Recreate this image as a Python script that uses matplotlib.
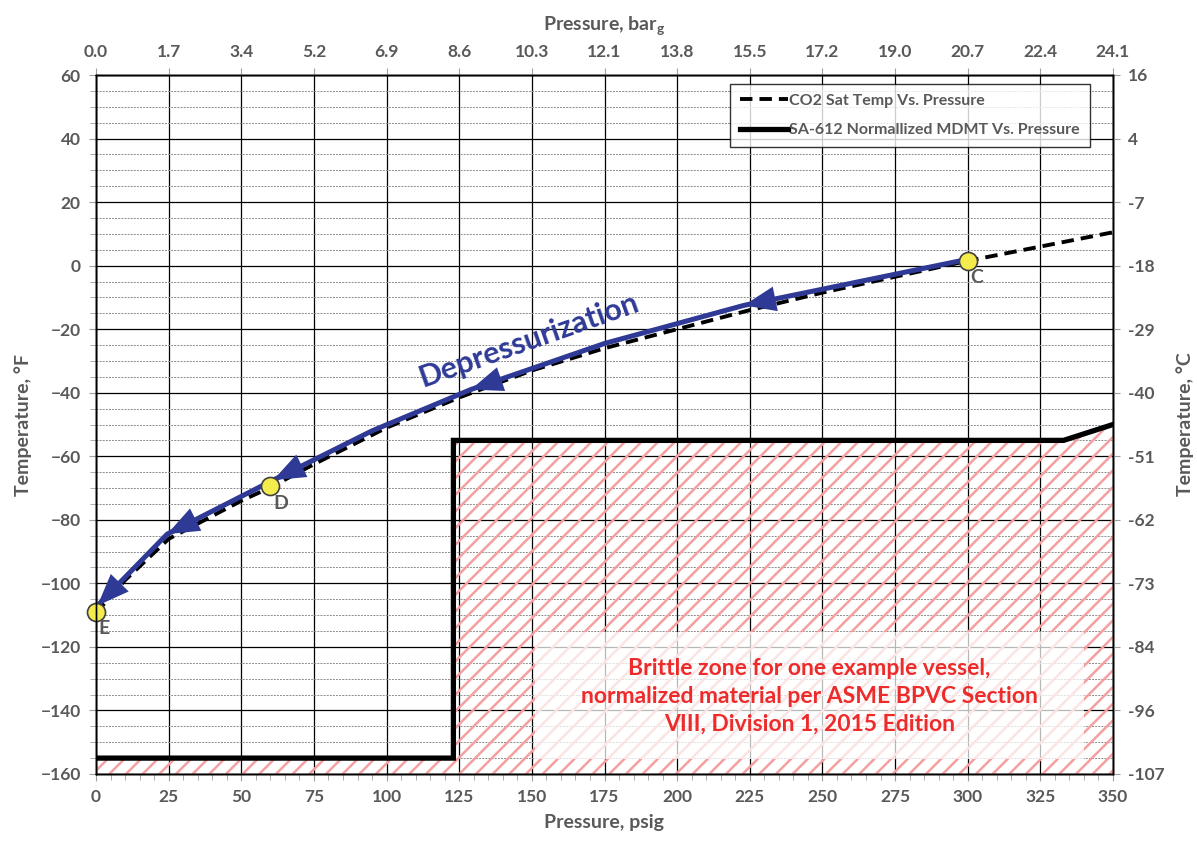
import matplotlib
matplotlib.use('Agg')
import matplotlib.pyplot as plt
import numpy as np
from matplotlib.patches import Rectangle
from matplotlib.ticker import MultipleLocator

plt.rcParams['font.family'] = ['Lato', 'DejaVu Sans']
plt.rcParams['font.weight'] = 'bold'
plt.rcParams['axes.labelweight'] = 'bold'
plt.rcParams['mathtext.fontset'] = 'custom'
plt.rcParams['mathtext.rm'] = 'Lato:bold'
plt.rcParams['mathtext.it'] = 'Lato:bold'
plt.rcParams['hatch.linewidth'] = 1.8

# ---------------- data ----------------
sat_p = [0, 10, 25, 50, 60, 75, 100, 125, 150, 175, 200, 225, 250, 275, 300, 325, 350]
sat_t = [-109.3, -99, -86, -74, -69.8, -62.5, -51, -41.5, -33, -26, -20, -14, -8.5, -3.5, 1.5, 6, 10.5]

mdmt_p = [0, 123, 123, 333, 350]
mdmt_t = [-155, -155, -55, -55, -50]

path_p = [300, 223, 175, 129, 95, 61, 24.5, 0.5]
path_t = [2, -12.5, -24.5, -39, -52, -67.5, -84.5, -107]
arrow_tip_index = [1, 3, 5, 6, 7]

point_labels = ['C', 'D', 'E']
point_p = [300, 60, 0]
point_t = [1.6, -69.5, -109]

x_ticks = list(range(0, 351, 25))
bar_labels = ['0.0', '1.7', '3.4', '5.2', '6.9', '8.6', '10.3', '12.1', '13.8',
              '15.5', '17.2', '19.0', '20.7', '22.4', '24.1']
y_ticks = list(range(-160, 61, 20))
c_labels = ['-107', '-96', '-84', '-73', '-62', '-51', '-40', '-29', '-18', '-7', '4', '16']

brittle_text = ("Brittle zone for one example vessel,\n"
                "normalized material per ASME BPVC Section\n"
                "VIII, Division 1, 2015 Edition")

# ---------------- style ----------------
GRAY = '#595959'
BLUE = '#2E3A96'
RED = '#EE2B2B'
HATCH = '#F4A0A0'
TICKFS = 12.5

fig = plt.figure(figsize=(11.97, 8.44), dpi=100)
ax = fig.add_axes([96/1197, 1-774/844, (1113-96)/1197, (774-75)/844])

ax.set_xlim(0, 350)
ax.set_ylim(-160, 60)
ax.set_xticks(x_ticks)
ax.set_yticks(y_ticks)
ax.xaxis.set_minor_locator(MultipleLocator(5))
ax.yaxis.set_minor_locator(MultipleLocator(5))
ax.tick_params(axis='both', which='major', direction='out', length=5, width=0.8,
               color='#A0A0A0', labelcolor=GRAY, labelsize=TICKFS, pad=6)
ax.tick_params(axis='both', which='minor', direction='out', length=4, width=0.6,
               color='#A0A0A0')
ax.set_axisbelow(True)
ax.grid(True, which='major', color='black', linewidth=0.9, zorder=0)
ax.grid(True, which='minor', axis='y', color='#8C8C8C', linewidth=0.7,
        linestyle=(0, (2, 1.2)), zorder=0)
for s in ax.spines.values():
    s.set_color('black')
    s.set_linewidth(1.0)

ax.set_xlabel('Pressure, psig', color=GRAY, fontsize=14, fontweight='bold', labelpad=6)
ax.set_ylabel('Temperature, °F', color=GRAY, fontsize=14, fontweight='bold', labelpad=6)

# brittle zone hatch
fill_x = np.array(mdmt_p, dtype=float)
fill_y = np.array(mdmt_t, dtype=float)
ax.fill_between(fill_x, -160, fill_y, facecolor='none', edgecolor=HATCH,
                hatch='//', linewidth=0, zorder=1)

# faded text box
ax.add_patch(Rectangle((151, -155.3), 189, 39.9, facecolor='white', alpha=0.72,
                       edgecolor='none', zorder=2))
ax.text(245.5, -135.5, brittle_text, color=RED, fontsize=16.5, fontweight='bold',
        ha='center', va='center', linespacing=1.42, zorder=3)

# lines
ax.plot(sat_p, sat_t, color='black', linewidth=2.8, linestyle=(0, (3.2, 1.8)),
        label='CO2 Sat Temp Vs. Pressure', zorder=4)
ax.plot(mdmt_p, mdmt_t, color='black', linewidth=3.8, solid_joinstyle='miter',
        label='SA-612 Normallized MDMT Vs. Pressure', zorder=4)

# depressurization path
ax.plot(path_p, path_t, color=BLUE, linewidth=3.6, zorder=5, solid_capstyle='butt',
        solid_joinstyle='round')
for i in arrow_tip_index:
    tip = (path_p[i], path_t[i])
    prev = (path_p[i-1], path_t[i-1])
    frac = 0.02
    tail = (tip[0] + (prev[0]-tip[0])*frac, tip[1] + (prev[1]-tip[1])*frac)
    ax.annotate('', xy=tip, xytext=tail,
                arrowprops=dict(arrowstyle='-|>,head_length=2.3,head_width=0.9',
                                color=BLUE, lw=0, shrinkA=0, shrinkB=0),
                zorder=6)

ax.text(149, -23.5, 'Depressurization', color=BLUE, fontsize=22, fontweight='bold',
        rotation=19.5, ha='center', va='center', rotation_mode='anchor', zorder=6)

# points
ax.plot(point_p, point_t, linestyle='none', marker='o', markersize=13,
        markerfacecolor='#F3EC4C', markeredgecolor='#404040', markeredgewidth=1.2,
        zorder=7, clip_on=False)
for lab, px, pt in zip(point_labels, point_p, point_t):
    ax.annotate(lab, (px, pt), xytext=(2, -6), textcoords='offset points',
                color=GRAY, fontsize=14, fontweight='bold', ha='left', va='top',
                zorder=8)

# legend
leg = ax.legend(loc='upper right', bbox_to_anchor=(0.977, 0.987),
                prop={'size': 11.5, 'weight': 'bold'},
                frameon=True, fancybox=False, edgecolor='black', handlelength=3.0,
                handletextpad=0.1, labelspacing=0.95, borderpad=0.6,
                borderaxespad=0)
leg.get_frame().set_linewidth(1.0)
for t in leg.get_texts():
    t.set_color(GRAY)
leg.set_zorder(10)

# top axis (bar)
axt = ax.twiny()
axt.set_xlim(ax.get_xlim())
axt.set_xticks(x_ticks)
axt.set_xticklabels(bar_labels)
axt.tick_params(axis='x', direction='out', length=5, width=0.8, color='#A0A0A0',
                labelcolor=GRAY, labelsize=TICKFS, pad=6)
axt.set_xlabel(r'Pressure, bar$_\mathrm{g}$', color=GRAY, fontsize=14,
               fontweight='bold', labelpad=10)

# right axis (°C)
axr = ax.twinx()
axr.set_ylim(ax.get_ylim())
axr.set_yticks(y_ticks)
axr.set_yticklabels(c_labels)
axr.tick_params(axis='y', direction='out', length=5, width=0.8, color='#A0A0A0',
                labelcolor=GRAY, labelsize=TICKFS, pad=6)
axr.set_ylabel('Temperature, °C', color=GRAY, fontsize=14, fontweight='bold',
               labelpad=8)
for a in (axt, axr):
    for s in a.spines.values():
        s.set_color('black')
        s.set_linewidth(1.0)

for a in (ax, axt, axr):
    for lbl in a.get_xticklabels() + a.get_yticklabels():
        lbl.set_fontweight('bold')

fig.savefig('out.png', dpi=100)
